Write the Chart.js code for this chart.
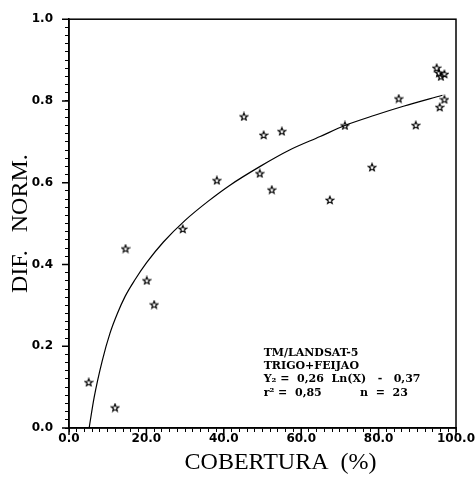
<!DOCTYPE html>
<html>
<head>
<meta charset="utf-8">
<script src="https://cdn.jsdelivr.net/npm/chart.js@4"></script>
<style>
html, body { margin: 0; padding: 0; background: #fff; }
</style>
</head>
<body>
<canvas id="myChart" width="475" height="480"></canvas>
<script>
// observed points (cobertura %, dif. norm.)
let coverX = [5.1, 11.9, 14.6, 20.1, 22.0, 29.4, 38.2, 45.2, 50.3, 55.0, 49.3, 52.4,
              67.4, 71.3, 78.3, 85.2, 89.6, 95.8, 97.0, 95.0, 95.6, 97.0, 96.1];
let normDif = [0.112, 0.050, 0.439, 0.361, 0.302, 0.487, 0.606, 0.762, 0.717, 0.726, 0.623, 0.583,
               0.558, 0.740, 0.638, 0.806, 0.741, 0.785, 0.804, 0.881, 0.869, 0.866, 0.860];
// fitted curve
let fitX = [5.2, 6.5, 8.6, 10.6, 12.5, 14.5, 17.0, 20.1, 24.4, 30.0, 36.0, 41.6, 49.4, 57.0, 64.9, 71.3, 79.0, 86.4, 96.5];
let fitY = [0.0, 0.075, 0.165, 0.232, 0.280, 0.322, 0.362, 0.405, 0.455, 0.508, 0.555, 0.594, 0.640, 0.680, 0.713, 0.740, 0.765, 0.787, 0.814];
let xTickLabels = ['0.0', '20.0', '40.0', '60.0', '80.0', '100.0'];
let yTickLabels = ['0.0', '0.2', '0.4', '0.6', '0.8', '1.0'];
let noteLines = ['TM/LANDSAT-5', 'TRIGO+FEIJAO', 'Y\u2082 =  0,26  Ln(X)   -   0,37', 'r\u00b2 =  0,85          n  =  23'];

function makeStar() {
    let c = document.createElement('canvas');
    c.width = 10; c.height = 10;
    let g = c.getContext('2d');
    g.beginPath();
    for (let i = 0; i < 10; i++) {
        let r = i % 2 ? 1.7 : 3.9;
        let a = -Math.PI / 2 + i * Math.PI / 5;
        let px = 5 + r * Math.cos(a), py = 5.4 + r * Math.sin(a);
        if (i) g.lineTo(px, py); else g.moveTo(px, py);
    }
    g.closePath();
    g.lineWidth = 1.2;
    g.strokeStyle = '#000';
    g.stroke();
    return c;
}

let frame = {
    id: 'frame',
    afterDraw(chart) {
        let ctx = chart.ctx, a = chart.chartArea, x = chart.scales.x, y = chart.scales.y;
        ctx.save();
        ctx.strokeStyle = '#000';
        ctx.lineWidth = 1.5;
        ctx.strokeRect(a.left, a.top, a.right - a.left, a.bottom - a.top);
        // longer major ticks
        ctx.beginPath();
        for (let i = 0; i < xTickLabels.length; i++) {
            let px = x.getPixelForValue(i * 20);
            ctx.moveTo(px, a.bottom); ctx.lineTo(px, a.bottom + 7);
        }
        for (let i = 0; i < yTickLabels.length; i++) {
            let py = y.getPixelForValue(i * 0.2);
            ctx.moveTo(a.left, py); ctx.lineTo(a.left - 7, py);
        }
        ctx.stroke();
        ctx.fillStyle = '#000';
        ctx.font = 'bold 11px "DejaVu Serif"';
        ctx.textBaseline = 'alphabetic';
        let left = x.getPixelForValue(50.3), top = y.getPixelForValue(0.177);
        noteLines.forEach(function (t, i) { ctx.fillText(t, left, top + i * 13.4); });
        ctx.restore();
    }
};

let pts = coverX.map(function (v, i) { return {x: v, y: normDif[i]}; });
let curve = fitX.map(function (v, i) { return {x: v, y: fitY[i]}; });

let tickFont = {family: '"DejaVu Sans"', size: 12, weight: 'bold'};
let titleFont = {family: '"Liberation Serif"', size: 24};

let chart = new Chart(document.getElementById('myChart').getContext('2d'), {
    type: 'scatter',
    data: {
        datasets: [{
            data: pts,
            pointStyle: makeStar(),
            pointRadius: 4
        }, {
            data: curve,
            showLine: true,
            pointRadius: 0,
            borderColor: '#000',
            borderWidth: 1.2,
            cubicInterpolationMode: 'monotone'
        }]
    },
    plugins: [frame],
    options: {
        responsive: false,
        animation: false,
        devicePixelRatio: 1,
        layout: {padding: {top: 15, right: 19, left: 0, bottom: 0}},
        plugins: {legend: {display: false}, tooltip: {enabled: false}},
        scales: {
            x: {
                type: 'linear', min: 0, max: 100,
                afterFit: function (s) { s.height = 52; },
                border: {color: '#000', width: 1.5},
                grid: {drawOnChartArea: false, color: '#000', tickLength: 4, tickWidth: 1},
                ticks: {
                    stepSize: 2, autoSkip: false, maxRotation: 0, padding: 0,
                    color: '#000', font: tickFont,
                    callback: function (v) {
                        let k = Math.round(v / 2);
                        return k % 10 === 0 ? xTickLabels[k / 10] : '';
                    }
                },
                title: {display: true, text: '      COBERTURA  (%)', color: '#000', font: titleFont, padding: {top: 0, bottom: 3}}
            },
            y: {
                type: 'linear', min: 0, max: 1,
                afterFit: function (s) { s.width = 69; },
                border: {color: '#000', width: 1.5},
                grid: {drawOnChartArea: false, color: '#000', tickLength: 4, tickWidth: 1},
                ticks: {
                    stepSize: 0.02, autoSkip: false, padding: 12,
                    color: '#000', font: tickFont,
                    callback: function (v) {
                        let k = Math.round(v * 50);
                        return k % 10 === 0 ? yTickLabels[k / 10] : '';
                    }
                },
                title: {display: true, text: 'DIF.   NORM.', color: '#000', font: titleFont, padding: {top: 6, bottom: 0}}
            }
        }
    }
});
</script>
</body>
</html>
